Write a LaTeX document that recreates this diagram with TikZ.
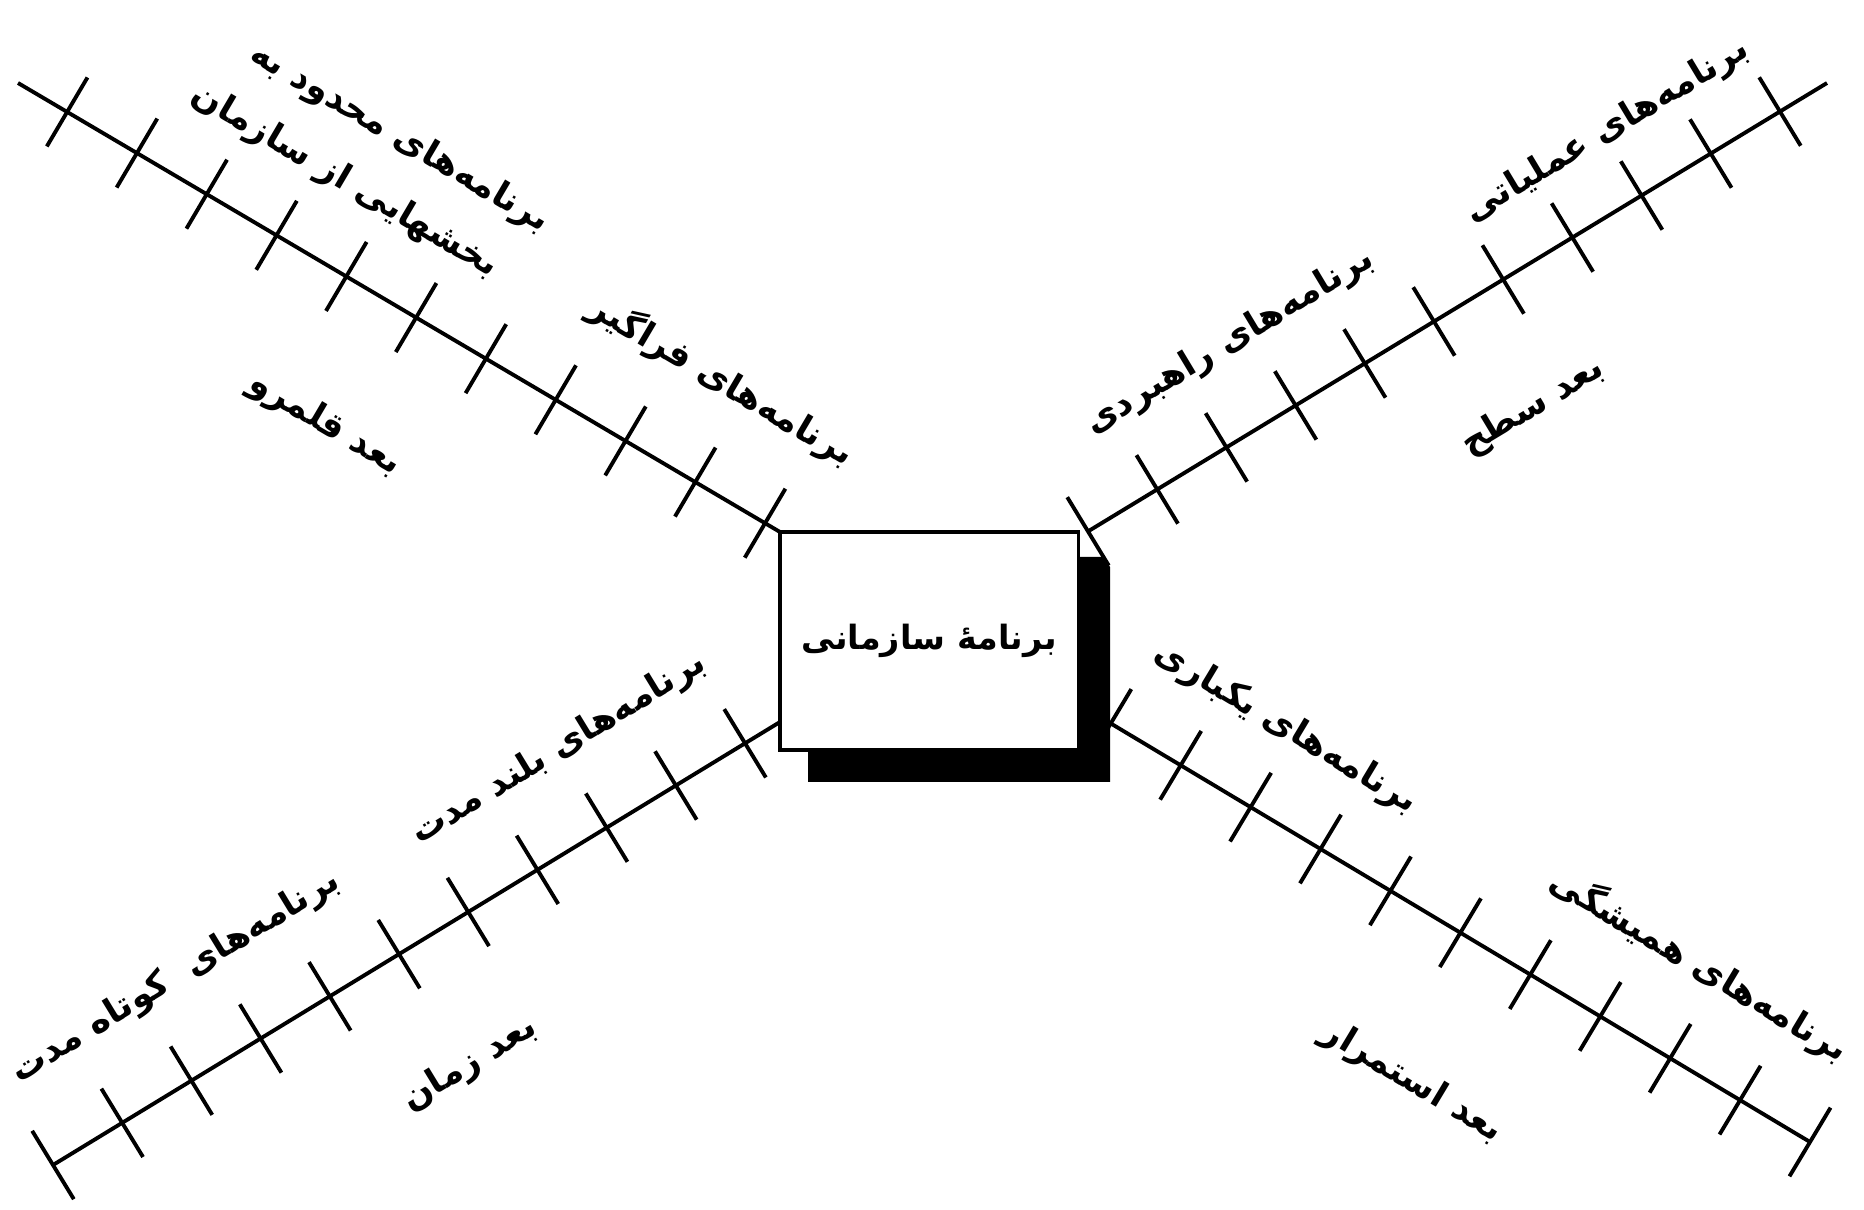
\documentclass[tikz,border=0pt]{standalone}
\usepackage{fontspec}
\newfontfamily\farsi[Script=Arabic]{DejaVu Sans}
\TeXXeTstate=1
\usetikzlibrary{decorations, decorations.markings, calc}
\newcommand{\fatext}[1]{\beginR #1\endR}
\tikzset{
    ruler/.style args={#1 #2 #3}{
        line width=1.1pt,
        decoration={
            markings,
            mark=between positions #1 and #2 step #3 with
                {
                    \draw[line width=1.1pt] (0,-0.4cm) -- (0,0.4cm);
                },
        },
        postaction={decorate}
    },
    orgbox/.style={draw, fill=white, line width=0.9pt, minimum width=2.98cm, minimum height=2.18cm,
        font=\farsi\bfseries\fontsize{9.5}{12}\selectfont},
    dimlabel/.style={font=\farsi\bfseries\fontsize{10}{12}\selectfont, inner sep=0pt}
}

\begin{document}
\begin{tikzpicture}[x=0.01cm, y=-0.01cm]
    \useasboundingbox (0,0) rectangle (1864,1210);
    % shadow under the centre box
    \fill (808,557) -- (1104,557) -- (1110,567) -- (1110,782) -- (808,782) -- cycle;
    \node[orgbox] (org) at (929,641) {\fatext{برنامهٔ سازمانی}};
    % ends of the four scales
    \coordinate (ul0) at (780,532);
    \coordinate (ul1) at (18,83);
    \coordinate (ur0) at (1087,532);
    \coordinate (ur1) at (1827,83);
    \coordinate (ll0) at (780,722);
    \coordinate (ll1) at (53,1165);
    \coordinate (lr0) at (1110,723);
    \coordinate (lr1) at (1810,1142);
    \draw[ruler={0.0645 1 0.0916}] (ul1) -- (ul0);
    \draw[ruler={0.0636 1 0.0935}] (ur1) -- (ur0);
    \draw[ruler={0 1 0.0952}] (ll1) -- (ll0);
    \draw[ruler={0 1 0.0999}] (lr1) -- (lr0);
    % scope (top left)
    \node[dimlabel, rotate=-30.5] (ulA) at (400,138) {\fatext{برنامه^^^^200cهای محدود به}};
    \node[dimlabel, rotate=-30.5] (ulB) at (345,181) {\fatext{بخشهایی از سازمان}};
    \node[dimlabel, rotate=-30.5] (ulC) at (722,380) {\fatext{برنامه^^^^200cهای فراگیر}};
    \node[dimlabel, rotate=-30.5] (ulD) at (325,424) {\fatext{بعد قلمرو}};
    % level (top right)
    \node[dimlabel, rotate=31] (urA) at (1607,131) {\fatext{برنامه^^^^200cهای عملیاتی}};
    \node[dimlabel, rotate=31] (urB) at (1230,342) {\fatext{برنامه^^^^200cهای راهبردی}};
    \node[dimlabel, rotate=31] (urC) at (1533,407) {\fatext{بعد سطح}};
    % time (bottom left)
    \node[dimlabel, rotate=31.4] (llA) at (176,977) {\fatext{برنامه^^^^200cهای\ \ کوتاه مدت}};
    \node[dimlabel, rotate=31.4] (llB) at (559,749) {\fatext{برنامه^^^^200cهای بلند مدت}};
    \node[dimlabel, rotate=31.4] (llC) at (470,1064) {\fatext{بعد زمان}};
    % continuity (bottom right)
    \node[dimlabel, rotate=-31] (lrA) at (1286,728) {\fatext{برنامه^^^^200cهای یکباری}};
    \node[dimlabel, rotate=-31] (lrB) at (1700,965) {\fatext{برنامه^^^^200cهای همیشگی}};
    \node[dimlabel, rotate=-31] (lrC) at (1412,1082) {\fatext{بعد استمرار}};
\end{tikzpicture}
\end{document}
